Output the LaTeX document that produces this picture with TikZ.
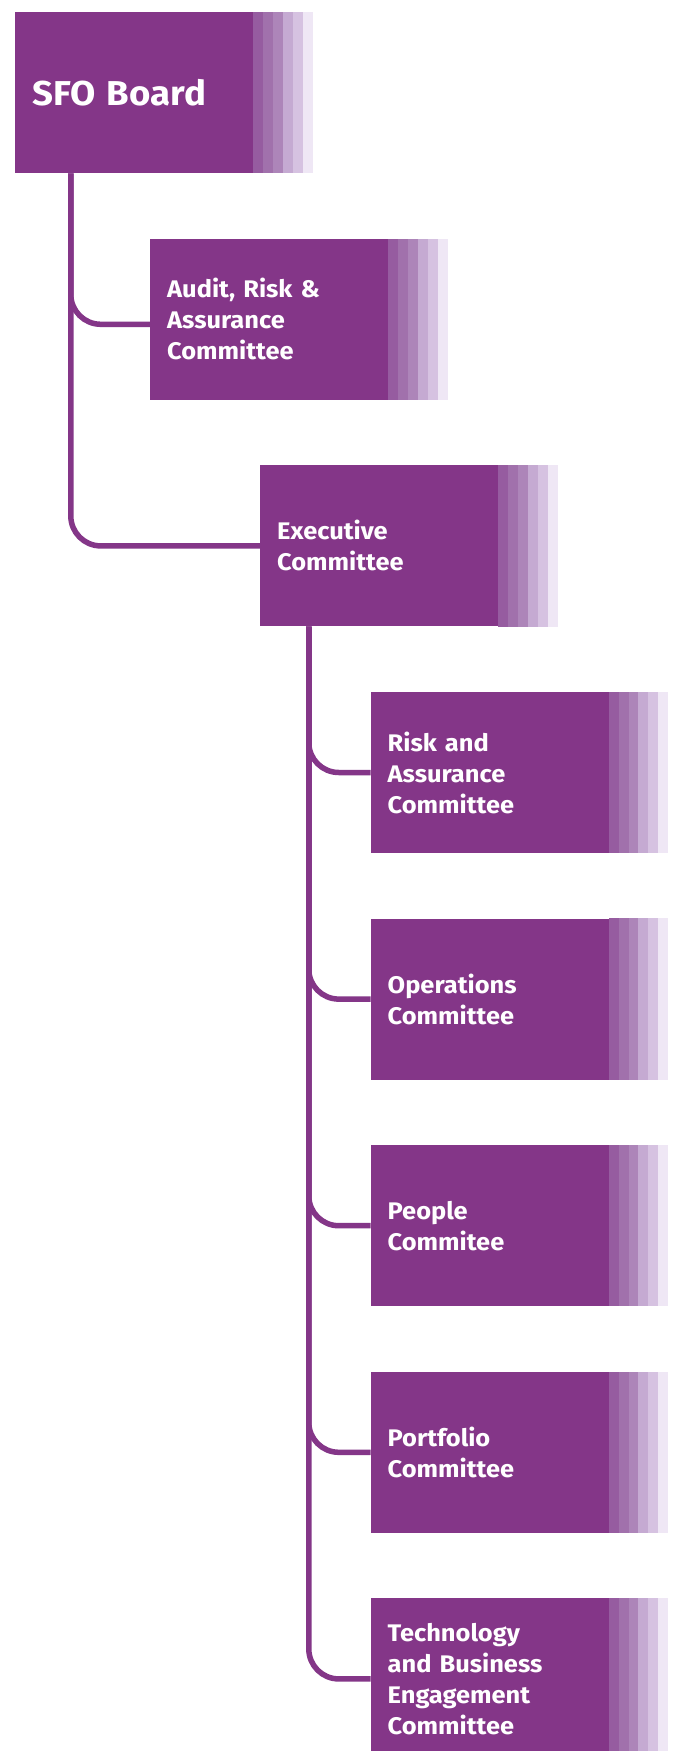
\documentclass[tikz,border=0pt]{standalone}
\usepackage{fontspec}
\setmainfont{Fira Sans}[FakeStretch=1.06]
\usetikzlibrary{calc}

% SFO purple and its fading stripes
\definecolor{sfopurple}{RGB}{132,54,136}
\definecolor{fadeA}{RGB}{150,92,160}
\definecolor{fadeB}{RGB}{161,113,172}
\definecolor{fadeC}{RGB}{173,133,185}
\definecolor{fadeD}{RGB}{197,170,210}
\definecolor{fadeE}{RGB}{214,194,225}
\definecolor{fadeF}{RGB}{239,231,245}

\tikzset{
  unit/.style={fill=sfopurple, text=white, anchor=north west,
    minimum height=161pt, text width=204pt, inner xsep=17pt, inner ysep=0pt,
    align=left, font=\bfseries\fontsize{24}{31}\selectfont},
  boardunit/.style={unit, font=\bfseries\fontsize{34.5}{40}\selectfont},
  conn/.style={draw=sfopurple, line width=5.5pt, rounded corners=30pt},
}

\begin{document}
\begin{tikzpicture}[x=1pt, y=1pt]
  \useasboundingbox (0,0) rectangle (673,-1751);
  \fill[white] (0,0) rectangle (673,-1751);
  \clip (0,0) rectangle (673,-1751);

  % committee boxes
  \node[boardunit] (sfo) at (15,-12) {SFO Board};
  \node[unit] (audit) at (150,-238.6) {Audit, Risk \&\\Assurance\\Committee};
  \node[unit] (exec) at (260,-465.2) {Executive\\Committee};
  \node[unit] (risk) at (370.5,-691.8) {Risk and\\Assurance\\Committee};
  \node[unit] (ops) at (370.5,-918.4) {Operations\\Committee};
  \node[unit] (people) at (370.5,-1145) {People\\Commitee};
  \node[unit] (portfolio) at (370.5,-1371.6) {Portfolio\\Committee};
  \node[unit] (tech) at (370.5,-1598.2) {Technology\\and Business\\Engagement\\Committee};

  % fading stripes on the right of every box
  \foreach \n in {sfo,audit,exec,risk,ops,people,portfolio,tech} {
    \foreach \i/\c in {0/fadeA,1/fadeB,2/fadeC,3/fadeD,4/fadeE,5/fadeF} {
      \fill[\c] ([xshift={\i*9.85pt}]\n.north east) rectangle ([xshift={(\i+1)*9.85pt}]\n.south east);
    }
  }

  % connectors from the board
  \coordinate (boardtrunk) at ($(sfo.south west)+(55.8,0)$);
  \draw[conn] (boardtrunk) |- ($(audit.west)+(0,-5)$);
  \draw[conn] (boardtrunk) |- (exec.west);

  % connectors from the executive committee
  \coordinate (exectrunk) at ($(exec.south west)+(48.8,0)$);
  \foreach \n in {risk,ops,people,portfolio,tech} {
    \draw[conn] (exectrunk) |- (\n.west);
  }
\end{tikzpicture}
\end{document}
